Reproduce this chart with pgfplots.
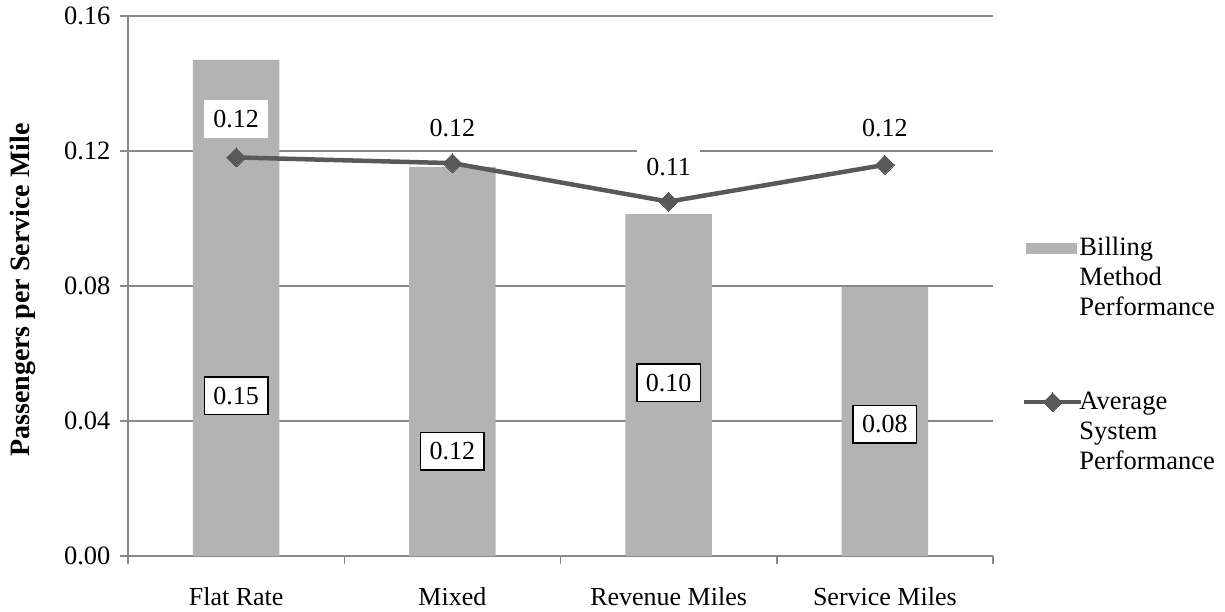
\documentclass[border=0pt]{standalone}
\usepackage{pgfplots}
\pgfplotsset{compat=1.18}
\usepackage{fontspec}
\setmainfont{Liberation Serif}
\definecolor{barc}{HTML}{B3B3B3}
\definecolor{linec}{HTML}{595959}
\definecolor{gridc}{HTML}{888888}
\pgfplotsset{
  barlegend/.style={legend image code/.code={\fill[barc] (2pt,1.5pt) rectangle (53pt,12.5pt);}},
  linelegend/.style={legend image code/.code={\draw[mark repeat=2,mark phase=2,##1] plot coordinates {(0pt,7pt) (28.5pt,7pt) (57pt,7pt)};}},
}
\begin{document}
\begin{tikzpicture}[x=1pt,y=1pt,font=\fontsize{26}{30}\selectfont,
  lbl/.style={draw=black, fill=white, line width=1.5pt, text height=17.5pt, text depth=0pt, inner xsep=9pt, inner ysep=10pt},
  lbw/.style={fill=white, text height=17.5pt, text depth=0pt, inner xsep=9pt, inner ysep=10pt}]
\path[use as bounding box] (0,0) rectangle (1225,611);
\begin{axis}[
  at={(128pt,55pt)}, anchor=south west,
  scale only axis, width=865pt, height=540pt,
  xmin=-0.5, xmax=3.5, ymin=0, ymax=0.16,
  axis x line*=bottom, axis y line*=left,
  axis line style={gridc, line width=1.5pt},
  /pgf/number format/assume math mode=true,
  /pgf/number format/fixed, /pgf/number format/fixed zerofill, /pgf/number format/precision=2,
  ytick={0,0.04,0.08,0.12,0.16},
  yticklabel style={font=\fontsize{26.5}{30}\selectfont, xshift=-6pt},
  ymajorgrids, major grid style={gridc, line width=1.5pt},
  xtick={-0.5,0.5,1.5,2.5,3.5}, xticklabels={},
  extra x ticks={0,1,2,3},
  extra x tick labels={Flat Rate,Mixed,Revenue Miles,Service Miles},
  extra x tick style={major tick length=0pt, xticklabel style={yshift=-28pt, font=\fontsize{26}{30}\selectfont}},
  tick align=outside, major tick length=8pt,
  major tick style={gridc, line width=1.5pt},
  ylabel={Passengers per Service Mile},
  ylabel style={at={(axis description cs:-0.121,0.4926)}, anchor=center, font=\fontsize{28}{32}\selectfont\bfseries},
  legend style={draw=none, fill=none, at={(axis description cs:1.0335,0.591)}, anchor=north west,
    inner sep=0pt, outer sep=0pt, row sep=135pt, column sep=-4pt, font=\fontsize{26.5}{30}\selectfont,
    cells={anchor=base west}, nodes={text width=150pt, align=left, inner sep=0pt}},
]
\addplot[ybar, bar width=0.4, fill=barc, draw=none, barlegend]
  coordinates {(0,0.1470) (1,0.1153) (2,0.1013) (3,0.0797)};
\addlegendentry{Billing\\Method\\Performance}
\addplot[linec, line width=4.5pt, mark=square*, mark size=6.7pt,
  mark options={rotate=45, solid, fill=linec, draw=linec, line width=0pt}, linelegend]
  coordinates {(0,0.1181) (1,0.1164) (2,0.1050) (3,0.1159)};
\addlegendentry{Average\\System\\Performance}
\node[lbl] at (axis cs:0,0.04741) {0.15};
\node[lbl] at (axis cs:1,0.03111) {0.12};
\node[lbl] at (axis cs:2,0.05126) {0.10};
\node[lbl] at (axis cs:3,0.03911) {0.08};
\node[lbw] at (axis cs:0,0.12948) {0.12};
\node[lbw] at (axis cs:1,0.12681) {0.12};
\node[lbw] at (axis cs:2,0.11541) {0.11};
\node[lbw] at (axis cs:3,0.12681) {0.12};
\end{axis}
\end{tikzpicture}
\end{document}
